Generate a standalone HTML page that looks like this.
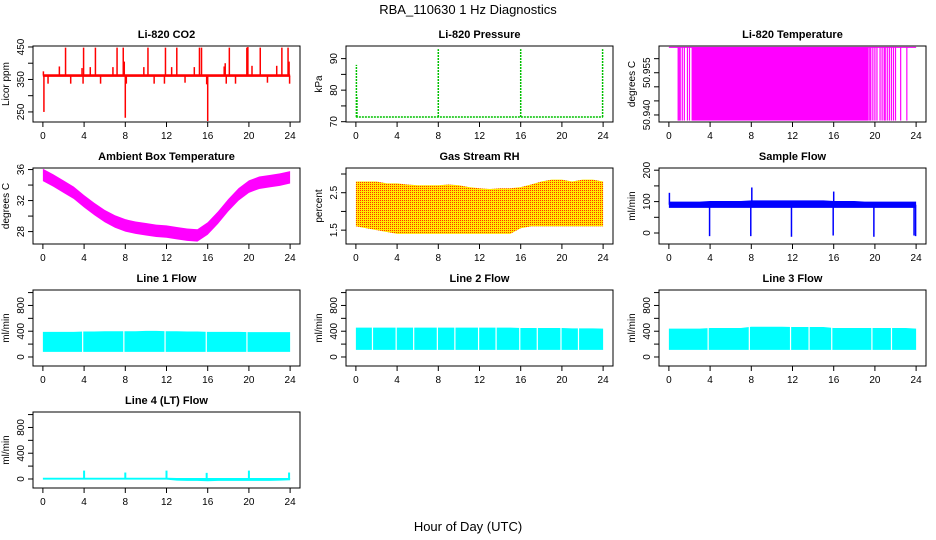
<!DOCTYPE html>
<html><head><meta charset="utf-8"><style>
html,body{margin:0;padding:0;background:#fff}
svg{display:block;font-family:"Liberation Sans",sans-serif}
</style></head><body>
<svg id="chart" width="936" height="540" viewBox="0 0 936 540">
<defs>
<pattern id="rhpat" width="2" height="2" patternUnits="userSpaceOnUse">
<rect width="2" height="2" fill="#ffe800"/><rect width="1" height="1" fill="#ff3000"/>
</pattern>
</defs>
<text x="468" y="14" text-anchor="middle" font-size="13">RBA_110630  1 Hz Diagnostics</text>
<text x="468" y="531" text-anchor="middle" font-size="13">Hour of Day (UTC)</text>
</svg>
<script>
const hours = [0,1,2,3,4,5,6,7,8,9,10,11,12,13,14,15,16,17,18,19,20,21,22,23,24];
const xTicks = [0,4,8,12,16,20,24];

const co2Base = 362;
const co2SpikeHours = [0.05,0.1,0.5,1.6,2.2,2.7,3.8,3.9,3.95,4.6,5.1,5.6,6.8,7.2,7.8,7.9,8.0,8.1,9.8,10.2,10.8,11.8,11.9,12.5,13.0,13.8,14.7,15.2,15.4,15.9,16.0,17.6,17.7,17.8,18.1,18.7,19.8,19.9,20.3,21.1,21.8,22.7,23.2,23.8,23.9,23.95];
const co2SpikeValues = [375,250,337,390,448,337,385,337,448,388,448,337,388,448,448,405,232,337,388,448,337,337,448,388,448,340,388,448,448,335,222,390,400,337,448,337,448,450,392,448,340,392,448,448,405,337];

const presBase = 71.5;
const presSpikeHours = [0.05,0.1,8.0,16.0,23.95];
const presSpikeValues = [88,78,93,93,93];

const tempLow = 50.938, tempHigh = 50.964;
const tempFill = [2.2,19.4];
const tempBarHours = [0.9,1.0,1.1,1.3,1.5,1.8,2.0,19.5,19.6,19.8,20.0,20.2,20.5,20.7,20.9,21.0,21.2,21.4,21.6,21.8,22.0,22.5,23.1];

const ambientMid = [35.3,34.6,33.8,33.0,31.9,30.9,30.0,29.3,28.8,28.5,28.3,28.1,28.0,27.8,27.6,27.5,28.4,29.8,31.4,32.8,33.8,34.3,34.5,34.7,35.0];

const rhLow = [1.6,1.55,1.5,1.45,1.4,1.4,1.4,1.4,1.4,1.4,1.4,1.4,1.4,1.4,1.4,1.4,1.55,1.6,1.6,1.6,1.6,1.6,1.6,1.6,1.6];
const rhHigh = [2.8,2.8,2.8,2.75,2.75,2.72,2.7,2.7,2.7,2.72,2.7,2.65,2.62,2.6,2.62,2.62,2.65,2.72,2.8,2.85,2.85,2.8,2.85,2.85,2.8];

const sampleLow = [80,80,80,80,80,80,80,80,80,80,80,80,80,80,80,80,80,80,80,80,80,80,80,80,80];
const sampleHigh = [100,100,100,100,102,102,102,102,104,104,104,104,104,104,104,104,102,102,102,100,100,100,100,100,100];
const sampleSpikeHours = [0.05,3.95,7.95,8.05,11.9,15.95,16.0,19.9,23.8,23.95];
const sampleSpikeValues = [128,-10,-10,145,-12,-8,132,-12,-8,-10];

const line1Low = [80,80,80,80,80,80,80,80,80,80,80,80,80,80,80,80,80,80,80,80,80,80,80,80,80];
const line1High = [390,390,390,390,395,395,400,400,400,400,405,405,400,400,395,395,390,390,390,390,385,385,385,385,385];
const line1Gaps = [3.85,7.85,11.85,15.85,19.8];

const line2Low = [110,110,110,110,110,110,110,110,110,110,110,110,110,110,110,110,110,110,110,110,110,110,110,110,110];
const line2High = [455,455,455,455,455,455,455,455,455,455,455,455,455,455,455,455,450,450,450,450,450,445,445,445,440];
const line2Gaps = [1.6,3.9,5.6,7.9,9.6,11.9,13.6,15.9,17.6,19.9,21.6];

const line3Low = [110,110,110,110,110,110,110,110,110,110,110,110,110,110,110,110,110,110,110,110,110,110,110,110,110];
const line3High = [440,440,440,440,450,450,450,450,470,470,470,470,465,465,465,465,450,450,450,450,450,450,450,450,440];
const line3Gaps = [3.8,7.8,11.8,13.6,15.8,19.7,21.6];

const line4Low = [-10,-10,-10,-10,-10,-10,-10,-10,-10,-10,-10,-10,-10,-25,-30,-30,-35,-30,-30,-30,-30,-30,-30,-25,-20];
const line4High = [20,20,20,20,20,20,20,20,20,20,20,20,20,15,15,15,15,15,15,15,15,15,15,15,15];
const line4SpikeHours = [4.0,8.0,12.0,15.9,20.0,23.9];
const line4SpikeValues = [130,100,130,95,130,100];

const NS = 'http://www.w3.org/2000/svg';
const svg = document.getElementById('chart');
function mk(tag, attrs, parent){ const e=document.createElementNS(NS,tag); for(const k in attrs) e.setAttribute(k,attrs[k]); (parent||svg).appendChild(e); return e; }

const colLeft=[33,346,659], colW=267, rowTop=[46,168,290,412], rowH=76;

function makePanel(col,row,title,ylab,ymin,ymax,ticks,labels,slug){
  const L=colLeft[col], T=rowTop[row], W=colW, H=rowH;
  const g=mk('g',{});
  
  
  const sx=h=>L+(h+0.96)/25.92*W;
  const sy=v=>T+H-(v-ymin)/(ymax-ymin)*H;
  const data=mk('g',{},g);
  
  
  const box=mk('rect',{x:L,y:T,width:W,height:H,fill:'none',stroke:'#000','stroke-width':1},g);
  
  
  const t=mk('text',{x:L+W/2,y:T-8,'text-anchor':'middle','font-size':11,'font-weight':'bold'},g);
  t.textContent=title;
  
  
  const xa=mk('g',{},g);
  
  
  mk('line',{x1:sx(0),x2:sx(24),y1:T+H,y2:T+H,stroke:'#000'},xa);
  xTicks.forEach(h=>{
    mk('line',{x1:sx(h),x2:sx(h),y1:T+H,y2:T+H+5,stroke:'#000'},xa);
    const tx=mk('text',{x:sx(h),y:T+H+17,'text-anchor':'middle','font-size':10},xa); tx.textContent=h;
  });
  const ya=mk('g',{},g);
  
  
  mk('line',{x1:L,x2:L,y1:sy(ticks[0]),y2:sy(ticks[ticks.length-1]),stroke:'#000'},ya);
  ticks.forEach((v,i)=>{
    mk('line',{x1:L-5,x2:L,y1:sy(v),y2:sy(v),stroke:'#000'},ya);
    if(labels[i]){const tx=mk('text',{x:0,y:0,'text-anchor':'middle','font-size':10,transform:`translate(${L-9},${sy(v)}) rotate(-90)`},ya); tx.textContent=labels[i];}
  });
  const yl=mk('text',{x:0,y:0,'text-anchor':'middle','font-size':10,transform:`translate(${L-24},${T+H/2}) rotate(-90)`},g);
  yl.textContent=ylab;
  
  
  return {sx,sy,data,L,T,W,H};
}
function band(p,lo,hi,fill){
  let pts=hours.map((h,i)=>p.sx(h)+','+p.sy(hi[i]));
  for(let i=hours.length-1;i>=0;i--) pts.push(p.sx(hours[i])+','+p.sy(lo[i]));
  const e=mk('polygon',{points:pts.join(' '),fill:fill},p.data);
  
  
}
function spikes(p,base,hs,vs,color,w,dash){
  hs.forEach((h,i)=>{
    const a={x1:p.sx(h),x2:p.sx(h),y1:p.sy(base),y2:p.sy(vs[i]),stroke:color,'stroke-width':w||1};
    if(dash) a['stroke-dasharray']=dash;
    const e=mk('line',a,p.data);
    
    
  });
}
function gaps(p,gs){
  gs.forEach(h=>{
    const e=mk('rect',{x:p.sx(h)-0.5,y:p.T+1,width:1.2,height:p.H-2,fill:'#fff'},p.data);
    
    
  });
}
const flowTicks=[0,200,400,600,800,1000], flowLabels=['0','','400','','800',''];

let p=makePanel(0,0,'Li-820 CO2','Licor ppm',219,453,[250,300,350,400,450],['250','','350','','450'],'co2');
spikes(p,co2Base,co2SpikeHours,co2SpikeValues,'#ff0000',1.5);
band(p,hours.map(()=>co2Base-4),hours.map(()=>co2Base+4),'#ff0000');

p=makePanel(1,0,'Li-820 Pressure','kPa',69.9,94,[70,75,80,85,90],['70','','80','','90'],'pressure');
mk('line',{x1:p.sx(0),x2:p.sx(24),y1:p.sy(presBase),y2:p.sy(presBase),stroke:'#00c000','stroke-width':1.5,'stroke-dasharray':'2,1'},p.data);
spikes(p,presBase,presSpikeHours,presSpikeValues,'#00c000',1.5,'2,1');

p=makePanel(2,0,'Li-820 Temperature','degrees C',50.9375,50.9645,[50.940,50.945,50.950,50.955,50.960],['50.940','','','50.955',''],'li820-temp');
mk('line',{x1:p.sx(0),x2:p.sx(24),y1:p.sy(tempHigh),y2:p.sy(tempHigh),stroke:'#ff00ff'},p.data);
mk('rect',{x:p.sx(tempFill[0]),y:p.sy(tempHigh),width:p.sx(tempFill[1])-p.sx(tempFill[0]),height:p.sy(tempLow)-p.sy(tempHigh),fill:'#ff00ff'},p.data);
spikes(p,tempHigh,tempBarHours,tempBarHours.map(()=>tempLow),'#ff00ff',1.2);

p=makePanel(0,1,'Ambient Box Temperature','degrees C',26.4,36.2,[28,30,32,34,36],['28','','32','','36'],'ambient');
band(p,ambientMid.map(v=>v-0.8),ambientMid.map(v=>v+0.8),'#ff00ff');

p=makePanel(1,1,'Gas Stream RH','percent',1.13,3.16,[1.5,2,2.5,3],['1.5','','2.5',''],'rh');
band(p,rhLow,rhHigh,'url(#rhpat)');

p=makePanel(2,1,'Sample Flow','ml/min',-35,207,[0,50,100,150,200],['0','','100','','200'],'sample-flow');
band(p,sampleLow,sampleHigh,'#0000ff');
spikes(p,90,sampleSpikeHours,sampleSpikeValues,'#0000ff',1.5);

p=makePanel(0,2,'Line 1 Flow','ml/min',-140,1040,flowTicks,flowLabels,'line1');
band(p,line1Low,line1High,'#00ffff'); gaps(p,line1Gaps);
p=makePanel(1,2,'Line 2 Flow','ml/min',-140,1040,flowTicks,flowLabels,'line2');
band(p,line2Low,line2High,'#00ffff'); gaps(p,line2Gaps);
p=makePanel(2,2,'Line 3 Flow','ml/min',-140,1040,flowTicks,flowLabels,'line3');
band(p,line3Low,line3High,'#00ffff'); gaps(p,line3Gaps);
p=makePanel(0,3,'Line 4 (LT) Flow','ml/min',-140,1040,flowTicks,flowLabels,'line4');
band(p,line4Low,line4High,'#00ffff');
spikes(p,0,line4SpikeHours,line4SpikeValues,'#00ffff',2);
</script>
</body></html>
